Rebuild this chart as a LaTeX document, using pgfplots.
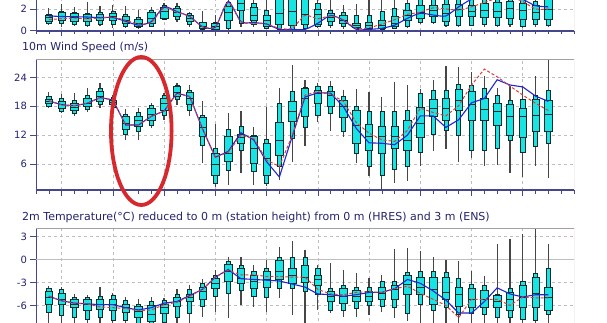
\documentclass[border=0pt]{standalone}
\usepackage{pgfplots}
\pgfplotsset{compat=1.18}
\usepackage{pgfplotstable}
\usepgfplotslibrary{statistics}
\usepackage{fontspec}
\setmainfont{DejaVu Sans}
\definecolor{navy}{RGB}{35,35,110}
\definecolor{axisblue}{RGB}{70,70,140}
\definecolor{framegray}{RGB}{165,160,155}
\definecolor{gridgray}{RGB}{190,190,190}
\definecolor{boxcyan}{RGB}{25,228,228}
\definecolor{boxline}{RGB}{15,45,45}
\definecolor{whisk}{RGB}{70,70,70}
\definecolor{hresblue}{RGB}{30,40,210}
\definecolor{ctrlred}{RGB}{220,60,60}
\definecolor{ellred}{RGB}{215,40,45}

% top panel (cut off)
\pgfplotstableread{
i mn pa pb md pc pd mx hres ctrl
0 0.5 0.7 0.85 1.2 1.45 1.55 2.05 1.35 1.0
1 0.36 0.67 0.91 1.35 1.66 1.75 2.46 1.3 1.1
2 0.42 0.6 0.82 1.22 1.6 1.66 2.2 1.28 1.15
3 0.29 0.5 0.82 1.13 1.53 1.6 2.68 1.25 1.1
4 0.42 0.6 0.91 1.22 1.53 1.66 2.28 1.2 1.15
5 0.2 0.6 0.91 1.29 1.6 1.75 2.37 1.2 1.25
6 0.2 0.4 0.67 0.91 1.29 1.53 2.28 0.85 0.95
7 0.2 0.25 0.36 0.67 1.04 1.22 1.9 0.5 0.6
8 0.29 0.4 0.67 1.13 1.66 1.9 2.2 0.82 0.75
9 1.0 1.05 1.13 1.75 2.15 2.37 2.6 2.2 2.1
10 0.82 1.05 1.29 1.66 2.06 2.22 2.6 1.75 1.7
11 0.36 0.6 0.82 1.13 1.44 1.6 1.75 1.3 1.3
12 0.1 0.15 0.2 0.42 0.73 0.8 1.84 0.36 0.35
13 0.05 0.1 0.14 0.36 0.67 0.73 1.44 0.3 0.35
14 0.05 0.2 0.98 1.66 2.28 2.6 3.5 2.7 2.6
15 0.35 0.7 1.9 2.5 3.3 4.0 5.0 0.82 0.8
16 0.3 0.6 0.98 1.44 2.15 2.5 3.5 0.73 0.65
17 0.2 0.2 0.42 0.91 1.44 1.9 3.2 0.6 0.6
18 0.05 0.15 0.6 1.6 3.0 3.8 5.0 0.1 0.2
19 0.05 0.1 0.45 1.8 3.1 3.9 5.0 0.1 0.2
20 0.1 0.2 0.6 1.5 2.9 3.5 4.5 0.1 1.4
21 0.2 0.4 0.6 1.53 1.97 2.5 3.5 0.67 1.1
22 0.2 0.5 0.82 1.22 1.6 1.9 3.2 1.4 1.35
23 0.1 0.4 0.67 0.98 1.44 1.66 2.37 0.95 1.0
24 0.1 0.2 0.29 0.48 0.67 1.44 2.46 0.1 0.2
25 0.05 0.1 0.2 0.5 0.73 1.44 3.0 0.1 0.25
26 0.1 0.1 0.2 0.5 0.91 1.75 3.0 0.2 0.6
27 0.1 0.2 0.36 0.67 1.29 2.06 3.0 0.5 1.0
28 0.2 0.4 0.91 1.44 1.9 2.5 3.0 1.13 1.5
29 0.6 0.75 1.13 1.66 2.37 2.9 3.5 1.6 1.7
30 0.6 0.75 1.29 1.9 2.37 2.9 3.5 1.44 2.1
31 0.3 0.5 0.85 1.6 2.4 2.9 3.5 1.35 2.0
32 0.3 0.5 1.35 1.95 2.45 3.0 3.6 2.2 1.9
33 0.4 0.5 1.3 1.75 2.35 3.0 3.8 2.9 2.2
34 0.35 0.6 1.2 1.9 2.5 3.1 4.0 3.1 2.6
35 0.3 0.5 1.2 1.75 2.6 3.2 4.0 3.3 3.0
36 0.3 0.6 1.13 2.06 2.7 3.3 4.0 3.3 3.1
37 0.2 0.4 1.05 1.9 2.5 3.2 4.0 2.9 2.7
38 0.3 0.6 1.0 1.66 2.35 2.7 3.5 2.3 2.0
39 0.35 0.45 1.0 2.0 3.0 3.5 4.0 2.2 2.0
}\tabA

% 10m wind speed (m/s)
\pgfplotstableread{
i mn pa pb md pc pd mx hres ctrl
0 17.6 18.0 18.5 19.0 19.5 20.0 21.0 19.1 19.1
1 16.6 17.0 17.6 18.3 19.0 19.7 20.5 18.3 18.3
2 16.0 16.6 17.1 17.8 18.7 19.3 20.7 18.1 18.1
3 16.8 17.4 17.9 18.7 19.6 20.3 21.7 18.6 18.6
4 17.6 18.3 19.0 20.0 21.0 21.7 22.9 19.8 19.8
5 17.0 17.8 18.3 18.8 19.3 19.8 20.3 19.3 19.3
6 11.0 12.2 13.2 14.5 15.8 16.4 17.4 14.1 14.1
7 10.9 12.7 13.9 15.1 16.0 16.7 17.6 14.1 14.1
8 13.4 14.1 15.1 16.4 17.6 18.1 18.6 15.9 15.9
9 15.1 16.2 17.2 18.6 19.6 20.3 20.7 17.0 17.0
10 18.3 19.4 20.0 20.9 22.1 22.4 22.9 20.7 20.7
11 16.0 17.2 18.3 19.6 20.8 21.4 22.4 20.0 20.0
12 6.3 9.8 11.7 13.6 15.7 16.2 19.0 13.3 13.3
13 1.3 2.0 3.7 6.0 8.2 9.3 14.3 7.4 7.4
14 1.7 4.6 6.5 8.2 11.7 13.2 16.5 8.6 8.4
15 4.2 8.9 10.4 11.6 12.2 13.9 17.1 12.5 12.0
16 1.7 4.4 6.2 9.3 11.7 12.0 13.6 11.0 11.3
17 1.5 2.0 3.7 7.2 10.2 11.1 17.8 6.5 6.8
18 2.7 5.5 7.9 11.0 14.6 18.6 21.7 3.3 5.5
19 6.5 11.3 14.8 16.9 19.0 21.0 26.6 11.7 11.9
20 9.8 13.6 16.0 19.6 21.7 21.9 23.4 19.9 20.3
21 14.8 16.2 18.6 20.7 21.4 22.2 22.9 20.8 21.0
22 12.9 16.5 17.9 20.3 21.0 22.1 23.3 20.7 20.5
23 11.7 12.7 15.7 17.9 19.3 20.1 21.4 17.9 19.0
24 6.3 8.2 10.3 14.1 17.1 17.9 21.5 13.4 14.6
25 3.5 5.6 8.9 11.7 14.3 16.9 21.0 10.4 12.4
26 0.6 3.7 8.2 11.8 13.8 16.9 20.0 10.3 11.0
27 2.0 4.9 9.3 11.7 13.9 16.9 23.1 10.0 10.7
28 2.4 5.6 8.9 11.0 15.1 17.1 22.4 12.0 13.0
29 5.6 8.4 11.6 14.5 17.8 20.7 21.5 16.0 17.6
30 8.6 12.2 15.8 17.6 19.4 21.4 23.4 16.0 16.7
31 9.1 12.9 15.1 17.6 19.6 21.4 26.4 13.6 16.0
32 6.5 12.0 17.2 19.3 21.5 22.6 26.2 15.2 18.1
33 7.2 8.8 15.1 18.3 21.0 22.4 25.0 18.7 22.4
34 5.6 8.8 15.0 17.4 19.6 21.7 24.3 19.6 25.7
35 5.8 9.3 14.1 16.9 18.6 20.3 21.7 23.5 24.1
36 4.2 11.0 12.0 16.0 18.3 19.3 22.1 22.4 22.2
37 3.3 8.4 11.6 15.8 17.6 19.4 22.1 22.0 20.3
38 5.5 9.6 12.8 16.2 19.4 20.3 24.3 20.1 18.6
39 3.1 10.3 12.8 16.4 19.2 21.4 27.8 19.0 17.1
}\tabB

% 2m temperature (deg C)
\pgfplotstableread{
i mn pa pb md pc pd mx hres ctrl
0 -8.5 -6.9 -5.8 -4.9 -4.1 -3.8 -3.4 -4.8 -4.8
1 -8.8 -7.3 -5.9 -5.2 -4.4 -3.9 -3.6 -5.4 -5.4
2 -9.0 -7.6 -6.3 -5.8 -5.2 -4.9 -4.5 -5.7 -5.7
3 -9.0 -7.8 -6.6 -5.9 -5.2 -4.9 -4.6 -5.8 -5.8
4 -9.0 -7.6 -6.5 -5.8 -5.2 -4.8 -3.6 -5.9 -6.2
5 -9.2 -7.9 -6.6 -5.9 -5.2 -4.7 -4.4 -5.9 -6.3
6 -9.2 -8.0 -6.9 -6.3 -5.8 -5.3 -4.9 -6.3 -6.4
7 -9.5 -8.5 -7.5 -6.8 -6.1 -5.8 -5.2 -6.6 -6.7
8 -9.5 -8.8 -8.1 -7.2 -6.0 -5.5 -4.9 -6.3 -6.6
9 -9.2 -8.2 -7.0 -6.3 -5.8 -5.3 -5.0 -5.7 -5.9
10 -9.0 -7.6 -6.1 -5.5 -4.9 -4.6 -3.8 -5.5 -5.6
11 -8.5 -7.0 -5.5 -4.9 -4.5 -3.9 -3.3 -4.7 -4.8
12 -7.5 -6.1 -5.2 -4.1 -3.6 -3.1 -2.6 -3.9 -3.9
13 -6.8 -4.8 -3.8 -3.1 -2.5 -2.1 -1.3 -2.3 -2.3
14 -7.6 -4.4 -2.8 -1.5 -0.6 -0.2 0.4 -1.3 -1.4
15 -5.9 -4.0 -3.1 -2.4 -1.1 -0.8 0.3 -2.5 -2.0
16 -6.2 -4.8 -3.7 -2.8 -2.0 -1.5 -0.7 -2.6 -2.0
17 -6.8 -5.0 -3.6 -2.6 -1.5 -1.1 0.0 -2.7 -2.2
18 -5.0 -3.8 -2.6 -1.5 -0.1 0.3 1.7 -2.8 -2.2
19 -7.2 -3.8 -3.1 -2.0 -1.1 0.3 2.5 -3.2 -2.3
20 -8.5 -4.1 -3.0 -2.3 -0.8 0.3 1.3 -3.6 -2.3
21 -6.6 -4.5 -3.4 -2.6 -2.1 -1.1 -0.7 -4.5 -3.9
22 -7.0 -6.6 -5.5 -4.8 -4.1 -3.8 -0.4 -4.6 -4.5
23 -7.5 -6.6 -5.7 -4.8 -3.8 -3.4 -1.4 -4.8 -4.6
24 -7.5 -6.4 -5.5 -4.8 -4.0 -3.6 -1.7 -4.6 -4.3
25 -7.2 -6.0 -5.5 -4.8 -4.1 -3.6 -2.4 -4.3 -4.2
26 -6.8 -6.1 -5.2 -4.4 -3.6 -2.8 -2.0 -4.3 -4.3
27 -7.6 -6.3 -5.2 -3.9 -3.4 -2.8 1.4 -3.8 -3.8
28 -8.1 -7.0 -4.5 -3.3 -2.0 -1.7 1.5 -2.6 -3.5
29 -9.0 -5.8 -4.6 -3.6 -2.3 -1.5 1.1 -3.1 -4.4
30 -9.0 -6.6 -5.8 -3.9 -2.3 -1.5 0.3 -4.1 -5.2
31 -8.5 -6.3 -5.2 -4.3 -2.3 -1.7 0.0 -5.3 -6.0
32 -9.0 -7.2 -6.1 -4.6 -3.6 -2.4 -0.2 -7.0 -7.6
33 -8.8 -7.0 -6.2 -5.2 -3.7 -3.3 -1.5 -7.0 -5.2
34 -9.0 -7.2 -6.3 -5.2 -4.0 -3.4 -2.2 -5.5 -5.2
35 -9.5 -7.6 -6.3 -5.5 -4.7 -4.5 2.0 -3.7 -5.2
36 -9.5 -7.5 -6.6 -5.2 -4.3 -3.8 2.7 -4.5 -6.0
37 -9.5 -7.8 -6.3 -4.9 -3.4 -2.8 3.4 -4.9 -4.9
38 -9.5 -7.9 -6.3 -4.4 -2.3 -1.8 4.1 -4.6 -5.0
39 -9.0 -7.2 -6.6 -5.0 -3.6 -1.1 2.1 -4.6 -5.0
}\tabC

% one ensemble box (10-90 narrow box with min/max whiskers, 25-75 wide box with median)
\newcommand\bxrow[2]{%
  \pgfplotstablegetelem{#2}{mn}\of{#1}\let\vmn\pgfplotsretval
  \pgfplotstablegetelem{#2}{pa}\of{#1}\let\vpa\pgfplotsretval
  \pgfplotstablegetelem{#2}{pb}\of{#1}\let\vpb\pgfplotsretval
  \pgfplotstablegetelem{#2}{md}\of{#1}\let\vmd\pgfplotsretval
  \pgfplotstablegetelem{#2}{pc}\of{#1}\let\vpc\pgfplotsretval
  \pgfplotstablegetelem{#2}{pd}\of{#1}\let\vpd\pgfplotsretval
  \pgfplotstablegetelem{#2}{mx}\of{#1}\let\vmx\pgfplotsretval
  \edef\bxtmp{%
    \noexpand\addplot[boxplot prepared={draw position=#2, lower whisker=\vmn, lower quartile=\vpa, median=\vmd, upper quartile=\vpd, upper whisker=\vmx, box extend=0.32, whisker extend=0}] coordinates {};%
    \noexpand\addplot[boxplot prepared={draw position=#2, lower whisker=\vpb, lower quartile=\vpb, median=\vmd, upper quartile=\vpc, upper whisker=\vpc, box extend=0.58, whisker extend=0}] coordinates {};%
  }\bxtmp}

\pgfplotsset{
  meteo/.style={
    scale only axis, width=538pt, xmin=-1, xmax=41,
    axis x line*=bottom, axis y line*=left,
    axis line style={-},
    x axis line style={draw=axisblue, line width=1.2pt},
    y axis line style={draw=axisblue, line width=0.8pt},
    xtick={1,5,...,37}, minor xtick={-1,0,...,41}, xticklabels={},
    tick align=outside, major tick length=5.5pt, minor tick length=3.5pt,
    tick style={draw=axisblue, line width=0.6pt},
    xmajorgrids, ymajorgrids,
    major grid style={draw=gridgray, dash pattern=on 3pt off 3pt, line width=0.6pt},
    yticklabel style={font=\fontsize{10}{11}\selectfont, text=navy},
    /pgf/number format/assume math mode=true,
    boxplot/draw direction=y,
    boxplot/every box/.style={draw=boxline, fill=boxcyan, line width=0.6pt},
    boxplot/every whisker/.style={draw=whisk, line width=1.2pt},
    boxplot/every median/.style={draw=boxline, line width=0.6pt},
  },
  hresline/.style={hresblue, line width=1.1pt, mark=none},
  ctrlline/.style={ctrlred, dash pattern=on 3pt off 2pt, line width=1pt, mark=none},
}

\begin{document}
\begin{tikzpicture}[x=1pt,y=1pt]
\clip (0,0) rectangle (607,322);

\begin{scope}[overlay]
% ---------- top panel ----------
\begin{axis}[meteo, at={(36pt,291pt)}, anchor=south west, height=48.9pt,
  ymin=-0.05, ymax=4.5, ytick={0,2}]
\pgfplotsinvokeforeach{0,...,39}{\bxrow{\tabA}{#1}}
\addplot[hresline, smooth, tension=0.4] table[x=i, y=hres] {\tabA};
\addplot[ctrlline, smooth, tension=0.4] table[x=i, y=ctrl] {\tabA};
\draw[framegray, line width=0.8pt] (rel axis cs:0,1) -- (rel axis cs:1,1) -- (rel axis cs:1,0);
\end{axis}

% ---------- wind panel ----------
\begin{axis}[meteo, at={(36pt,132pt)}, anchor=south west, height=131pt,
  ymin=0.6, ymax=27.8, ytick={6,12,18,24}]
\pgfplotsinvokeforeach{0,...,39}{\bxrow{\tabB}{#1}}
\addplot[hresline] table[x=i, y=hres] {\tabB};
\addplot[ctrlline] table[x=i, y=ctrl] {\tabB};
\draw[framegray, line width=0.8pt] (rel axis cs:0,1) -- (rel axis cs:1,1) -- (rel axis cs:1,0);
\end{axis}

% ---------- temperature panel ----------
\begin{axis}[meteo, at={(36pt,94pt)}, anchor=north west, height=123.2pt,
  ymin=-12, ymax=4.14, ytick={-6,-3,3},
  extra y ticks={0}, extra y tick style={major grid style={solid, draw=gridgray, line width=0.7pt}}]
\pgfplotsinvokeforeach{0,...,39}{\bxrow{\tabC}{#1}}
\addplot[hresline] table[x=i, y=hres] {\tabC};
\addplot[ctrlline] table[x=i, y=ctrl] {\tabC};
\draw[framegray, line width=0.8pt] (rel axis cs:0,1) -- (rel axis cs:1,1) -- (rel axis cs:1,0);
\end{axis}

% ---------- titles ----------
\node[anchor=base west, inner sep=0pt, font=\fontsize{11}{13}\selectfont, text=navy] at (22,271) {10m Wind Speed (m/s)};
\node[anchor=base west, inner sep=0pt, font=\fontsize{11}{13}\selectfont, text=navy] at (22,101.5) {2m Temperature(°C) reduced to 0 m (station height) from 0 m (HRES) and 3 m (ENS)};

% ---------- annotation ----------
\draw[ellred, line width=3.8pt] (141.3,191) ellipse [x radius=30.3, y radius=74];
\end{scope}

\path (0,0) rectangle (607,322);
\end{tikzpicture}
\end{document}
